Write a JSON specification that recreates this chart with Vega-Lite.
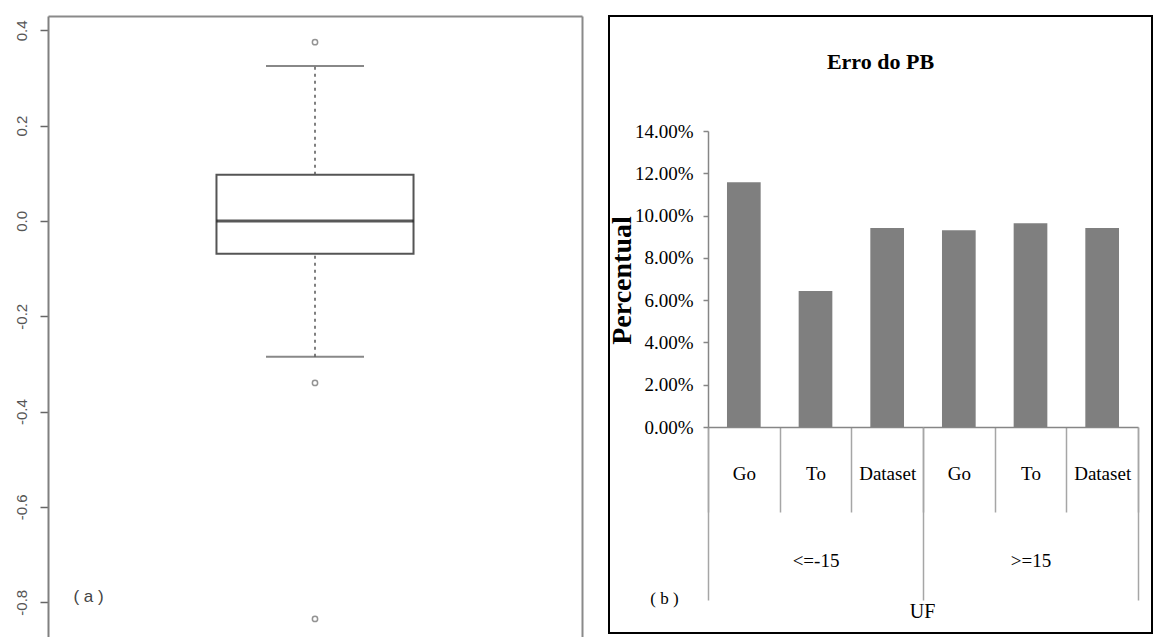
{
  "$schema": "https://vega.github.io/schema/vega-lite/v6.json",
  "padding": {"left": 13, "top": 15, "right": 0, "bottom": 0},
  "background": "white",
  "spacing": 25,
  "config": {"view": {"stroke": null}, "axis": {"grid": false}},
  "datasets": {
    "stats": [{"serie": "PB", "lower": -0.285, "q1": -0.069, "median": 0.0, "q3": 0.097, "upper": 0.325}],
    "outliers": [
      {"serie": "PB", "value": 0.375},
      {"serie": "PB", "value": -0.34},
      {"serie": "PB", "value": -0.835}
    ],
    "bars": [
      {"group": "<=-15", "categoria": "Go", "key": "<=-15|Go", "value": 0.1158},
      {"group": "<=-15", "categoria": "To", "key": "<=-15|To", "value": 0.0643},
      {"group": "<=-15", "categoria": "Dataset", "key": "<=-15|Dataset", "value": 0.0941},
      {"group": ">=15", "categoria": "Go", "key": ">=15|Go", "value": 0.0931},
      {"group": ">=15", "categoria": "To", "key": ">=15|To", "value": 0.0964},
      {"group": ">=15", "categoria": "Dataset", "key": ">=15|Dataset", "value": 0.0941}
    ]
  },
  "hconcat": [
    {
      "width": 534,
      "height": 621,
      "data": {"name": "stats"},
      "encoding": {
        "x": {
          "field": "serie", "type": "nominal",
          "scale": {"paddingInner": 0, "paddingOuter": 0.855},
          "axis": {
            "orient": "top", "labels": false, "ticks": false, "domain": true,
            "domainColor": "#8a8a8a", "domainWidth": 2,
            "title": "( a )", "titleX": 40, "titleY": 580, "titleAlign": "center", "titleBaseline": "middle",
            "titleFont": "Liberation Sans", "titleFontSize": 17, "titleFontWeight": "normal", "titleColor": "#444"
          }
        }
      },
      "layer": [
        {
          "mark": {"type": "rule", "color": "#555", "strokeWidth": 1.5, "strokeDash": [3, 4]},
          "encoding": {
            "y": {
              "field": "lower", "type": "quantitative",
              "scale": {"domain": [-0.873, 0.43], "nice": false, "zero": false},
              "axis": {
                "orient": "left", "values": [-0.8, -0.6, -0.4, -0.2, 0, 0.2, 0.4],
                "labelExpr": "replace(format(datum.value, '.1f'), '\u2212', '-')",
                "labelAngle": -90, "labelAlign": "center", "labelBaseline": "bottom",
                "labelFont": "Liberation Sans", "labelFontSize": 15, "labelColor": "#555",
                "labelPadding": 11, "tickSize": 8, "tickColor": "#666", "tickWidth": 1.5,
                "domainColor": "#808080", "domainWidth": 2, "title": null, "grid": false
              }
            },
            "y2": {"field": "upper"}
          }
        },
        {
          "mark": {"type": "bar", "fill": "white", "stroke": "#555", "strokeWidth": 2},
          "encoding": {
            "y": {
              "field": "q1", "type": "quantitative",
              "axis": {"orient": "right", "labels": false, "ticks": false, "domain": true, "domainColor": "#8a8a8a", "domainWidth": 2, "title": null, "grid": false}
            },
            "y2": {"field": "q3"}
          }
        },
        {
          "mark": {"type": "tick", "color": "#555", "size": 98, "thickness": 2},
          "encoding": {"y": {"field": "upper", "type": "quantitative", "axis": null}}
        },
        {
          "mark": {"type": "tick", "color": "#555", "size": 98, "thickness": 2},
          "encoding": {"y": {"field": "lower", "type": "quantitative", "axis": null}}
        },
        {
          "mark": {"type": "tick", "color": "#111", "size": 197, "thickness": 3},
          "encoding": {"y": {"field": "median", "type": "quantitative", "axis": null}}
        },
        {
          "data": {"name": "outliers"},
          "mark": {"type": "point", "shape": "circle", "filled": false, "size": 28, "stroke": "#666", "strokeWidth": 1.5},
          "encoding": {"y": {"field": "value", "type": "quantitative", "axis": null}}
        }
      ],
      "resolve": {"axis": {"y": "independent"}}
    },
    {
      "width": 543,
      "height": 617,
      "view": {"stroke": "black", "strokeWidth": 2},
      "title": {
        "text": "Erro do PB", "font": "Liberation Serif", "fontSize": 22, "fontWeight": "bold",
        "color": "black", "anchor": "middle", "orient": "top", "offset": -68, "baseline": "middle"
      },
      "data": {"name": "bars"},
      "layer": [
        {
          "mark": {"type": "bar", "color": "#7f7f7f", "width": {"band": 0.47}},
          "encoding": {
            "x": {
              "field": "key", "type": "nominal", "sort": null,
              "scale": {"range": [99, 529], "paddingInner": 0, "paddingOuter": 0},
              "axis": {
                "orient": "bottom", "offset": -206, "tickBand": "extent", "tickSize": 85,
                "tickColor": "#a6a6a6", "tickWidth": 1.5, "domainColor": "#868686", "domainWidth": 1.5,
                "labelExpr": "split(datum.value, '|')[1]", "labelAngle": 0, "labelOverlap": false,
                "labelFont": "Liberation Serif", "labelFontSize": 19, "labelColor": "black", "labelPadding": -48,
                "title": "( b )", "titleX": 55, "titleY": 171, "titleAlign": "center", "titleBaseline": "middle",
                "titleFont": "Liberation Serif", "titleFontSize": 17, "titleFontWeight": "normal", "titleColor": "black"
              }
            },
            "y": {
              "field": "value", "type": "quantitative",
              "scale": {"domain": [0, 0.14], "range": [411, 115], "nice": false},
              "axis": {
                "orient": "left", "offset": -99, "values": [0, 0.02, 0.04, 0.06, 0.08, 0.1, 0.12, 0.14],
                "format": ".2%", "labelFont": "Liberation Serif", "labelFontSize": 19, "labelColor": "black",
                "labelPadding": 10, "tickSize": 5, "tickColor": "#868686", "tickWidth": 1.5,
                "domainColor": "#868686", "domainWidth": 1.5,
                "title": "Percentual", "titleFont": "Liberation Serif", "titleFontSize": 28, "titleFontWeight": "bold",
                "titleColor": "black", "titleX": -86, "titleY": 264, "titleBaseline": "middle", "titleAlign": "center", "titleAngle": -90
              }
            }
          }
        },
        {
          "mark": {"type": "point", "opacity": 0},
          "encoding": {
            "x": {
              "field": "group", "type": "nominal", "sort": ["<=-15", ">=15"],
              "scale": {"range": [99, 529], "paddingInner": 0, "paddingOuter": 0},
              "axis": {
                "orient": "bottom", "offset": -206, "tickBand": "extent", "tickSize": 173,
                "tickColor": "#a6a6a6", "tickWidth": 1.5, "domain": false,
                "labelAngle": 0, "labelOverlap": false,
                "labelFont": "Liberation Serif", "labelFontSize": 19, "labelColor": "black", "labelPadding": -49,
                "title": "UF", "titleX": 313, "titleY": 184, "titleAlign": "center", "titleBaseline": "middle",
                "titleFont": "Liberation Serif", "titleFontSize": 20, "titleFontWeight": "normal", "titleColor": "black"
              }
            },
            "y": {"field": "value", "type": "quantitative"}
          }
        }
      ],
      "resolve": {"scale": {"x": "independent"}, "axis": {"x": "independent"}}
    }
  ]
}
